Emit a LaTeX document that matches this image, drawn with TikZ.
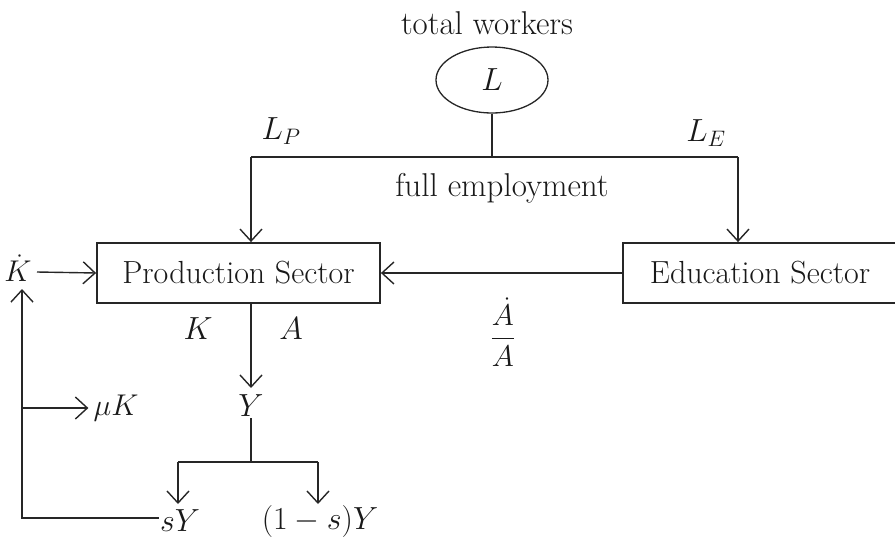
\RequirePackage{fix-cm}
\documentclass[tikz,border=0pt]{standalone}
\usetikzlibrary{arrows.meta,shapes.geometric}
\begin{document}
\begin{tikzpicture}[x=1pt,y=-1pt,
  every node/.style={text=black!90},
  txt/.style={inner sep=0pt, font=\fontsize{33}{38}\selectfont},
  lbl/.style={inner sep=1pt, font=\fontsize{32}{38}\selectfont},
  box/.style={draw=black!85, line width=1.8pt, minimum height=60pt, inner sep=0pt, font=\fontsize{32}{38}\selectfont},
  ln/.style={draw=black!85, line width=1.4pt},
  arr/.style={ln, -{Straight Barb[length=12pt,width=22pt,line width=1.4pt]}}]
\useasboundingbox (0,0) rectangle (895,542);
% top
\node[txt] (tw) at (487,23) {total workers};
\node[draw=black!85, ellipse, line width=1.3pt, minimum width=112pt, minimum height=66pt, inner sep=0pt, font=\fontsize{32}{38}\selectfont] (L) at (492,80) {$L$};
\coordinate (J) at (492,157);
\coordinate (JL) at (251,157);
\coordinate (JR) at (738,157);
\node[lbl] (LP) at (281,131) {$L_P$};
\node[lbl] (LE) at (706,133) {$L_E$};
\node[txt] (fe) at (502,188) {full employment};
% boxes
\node[box, minimum width=283pt] (P) at (238.5,273) {Production Sector};
\node[box, minimum width=274pt] (E) at (760,273) {Education Sector};
\node[inner sep=0pt, font=\fontsize{30}{36}\selectfont] (frac) at (503,332) {$\displaystyle\frac{\dot A}{A}$};
% left part
\node[lbl, font=\fontsize{30}{36}\selectfont] (Kd) at (18,268) {$\dot K$};
\node[lbl] (K) at (198,329) {$K$};
\node[lbl] (A) at (291,329) {$A$};
\node[lbl] (Y) at (251,406) {$Y$};
\node[lbl, font=\fontsize{30}{36}\selectfont] (muK) at (116,408) {$\mu K$};
\node[lbl] (sY) at (180,521) {$sY$};
\node[lbl] (oneS) at (320,521) {$(1-s)Y$};
\coordinate (Yt) at (251,388);
\coordinate (Yb) at (251,462);
\coordinate (BL) at (178,462);
\coordinate (BR) at (318,462);
\coordinate (Bm) at (22,408);
\coordinate (Kb) at (22,289);
\coordinate (Ka) at (37,272);
% connectors
\draw[ln] (L.south) -- (J);
\draw[ln] (JL) -- (JR);
\draw[arr] (JL) -- (JL |- P.north);
\draw[arr] (JR) -- (JR |- E.north);
\draw[arr] (E.west) -- (P.east);
\draw[arr] (Ka) -- (P.west);
\draw[arr] (Yt |- P.south) -- (Yt);
\draw[ln] (Y.south) -- (Yb);
\draw[ln] (BL) -- (BR);
\draw[arr] (BL) -- (178,504);
\draw[arr] (BR) -- (318,504);
\draw[arr] ([yshift=3pt]sY.west) -| (Kb);
\draw[arr] (Bm) -- ([xshift=-4pt]muK.west);
\end{tikzpicture}
\end{document}
